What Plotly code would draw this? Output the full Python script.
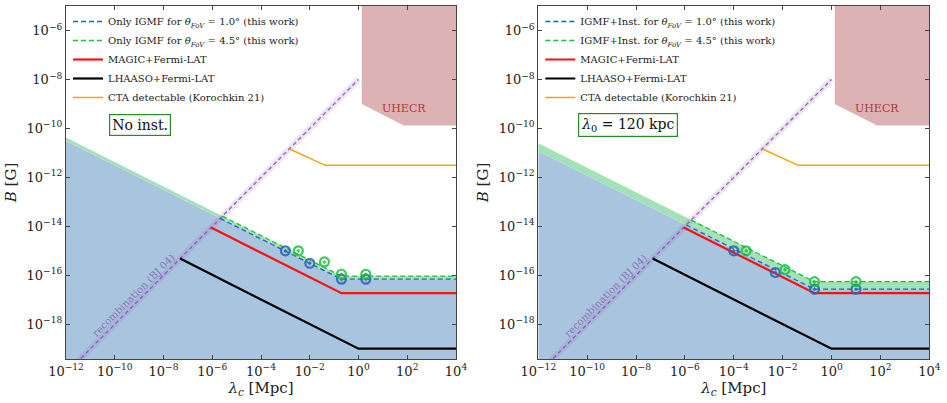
import plotly.graph_objects as go

# ---------------- data ----------------
lam_fill = [1e-12, 0.2, 1e4]
B_blue_L = [3.1e-11, 6.9e-17, 6.9e-17]
B_green_L = [4.2e-11, 9.3e-17, 9.3e-17]
B_blue_R = [1.17e-11, 2.7e-17, 2.7e-17]
B_green_R = [2.45e-11, 5.5e-17, 5.5e-17]

lam_blue_line_L = [2.1e-6, 0.2, 1e4]
B_blue_line_L = [2.1e-14, 6.9e-17, 6.9e-17]
lam_green_line_L = [2.6e-6, 0.2, 1e4]
B_green_line_L = [2.6e-14, 9.3e-17, 9.3e-17]
lam_blue_line_R = [1.13e-6, 0.2, 1e4]
B_blue_line_R = [1.13e-14, 2.7e-17, 2.7e-17]
lam_green_line_R = [1.8e-6, 0.2, 1e4]
B_green_line_R = [1.8e-14, 5.5e-17, 5.5e-17]

lam_magic = [8.9e-7, 0.2, 1e4]
B_magic = [8.9e-15, 1.86e-17, 1.86e-17]
lam_lhaaso = [4.8e-8, 1.0, 1e4]
B_lhaaso = [4.8e-16, 1.0e-19, 1.0e-19]
lam_cta = [1.58e-3, 0.043, 1e4]
B_cta = [1.41e-11, 3.1e-12, 3.1e-12]

lam_recomb = [1e-12, 1.0]
B_recomb = [1e-20, 1e-8]

lam_uhecr = [1.35, 1.35, 73, 1e4, 1e4]
B_uhecr = [1e-4, 1e-9, 1.3e-10, 1.3e-10, 1e-4]

pts_blue_lam_L = [1e-3, 1e-2, 0.2, 2.0]
pts_blue_B_L = [1.0e-15, 3.1e-16, 6.9e-17, 6.9e-17]
pts_green_lam_L = [3.4e-3, 0.04, 0.2, 2.0]
pts_green_B_L = [1.0e-15, 3.5e-16, 1.1e-16, 1.1e-16]
pts_blue_lam_R = [1e-4, 5e-3, 0.2, 10.0]
pts_blue_B_R = [1.0e-15, 1.3e-16, 2.7e-17, 2.7e-17]
pts_green_lam_R = [3.2e-4, 0.0125, 0.2, 10.0]
pts_green_B_R = [1.0e-15, 1.7e-16, 5.5e-17, 5.5e-17]

x_tick_exps = [-12, -10, -8, -6, -4, -2, 0, 2, 4]
y_tick_exps = [-18, -16, -14, -12, -10, -8, -6]

labels_L = ["Only IGMF for <i>θ<sub>FoV</sub></i> = 1.0° (this work)",
            "Only IGMF for <i>θ<sub>FoV</sub></i> = 4.5° (this work)"]
labels_R = ["IGMF+Inst. for <i>θ<sub>FoV</sub></i> = 1.0° (this work)",
            "IGMF+Inst. for <i>θ<sub>FoV</sub></i> = 4.5° (this work)"]
box_text = ["No inst.", "<i>λ</i><sub>0</sub> = 120 kpc"]

# ---------------- style ----------------
FONT = "DejaVu Serif"
C_FILL = "rgb(169,196,222)"
C_GREENFILL = "rgb(163,226,184)"
C_BLUE = "#2a62b4"
C_GREEN = "#1fbf3c"
C_RED = "#ff1010"
C_BLACK = "#000000"
C_ORANGE = "#ffa010"
C_UHECR = "rgb(220,178,180)"
C_PURPLE = "#8a5aa8"

fig = go.Figure()

panels = [
    dict(xa="x", ya="y", leg="legend", bL=B_blue_L, gL=B_green_L,
         bl=(lam_blue_line_L, B_blue_line_L), gl=(lam_green_line_L, B_green_line_L),
         pb=(pts_blue_lam_L, pts_blue_B_L), pg=(pts_green_lam_L, pts_green_B_L),
         labels=labels_L),
    dict(xa="x2", ya="y2", leg="legend2", bL=B_blue_R, gL=B_green_R,
         bl=(lam_blue_line_R, B_blue_line_R), gl=(lam_green_line_R, B_green_line_R),
         pb=(pts_blue_lam_R, pts_blue_B_R), pg=(pts_green_lam_R, pts_green_B_R),
         labels=labels_R),
]

for p in panels:
    xa, ya, leg = p["xa"], p["ya"], p["leg"]
    # blue excluded region
    fig.add_trace(go.Scatter(x=lam_fill + [lam_fill[-1], lam_fill[0]],
                             y=p["bL"] + [1e-22, 1e-22], fill="toself",
                             fillcolor=C_FILL, line=dict(width=0), mode="lines",
                             showlegend=False, hoverinfo="skip", xaxis=xa, yaxis=ya))
    # green band
    fig.add_trace(go.Scatter(x=lam_fill + lam_fill[::-1],
                             y=p["gL"] + p["bL"][::-1], fill="toself",
                             fillcolor=C_GREENFILL, line=dict(width=0), mode="lines",
                             showlegend=False, hoverinfo="skip", xaxis=xa, yaxis=ya))
    # UHECR
    fig.add_trace(go.Scatter(x=lam_uhecr, y=B_uhecr, fill="toself", fillcolor=C_UHECR,
                             line=dict(width=0), mode="lines", showlegend=False,
                             hoverinfo="skip", xaxis=xa, yaxis=ya))
    # recombination band + line
    fig.add_trace(go.Scatter(x=lam_recomb, y=B_recomb, mode="lines",
                             line=dict(color="rgba(150,100,200,0.18)", width=6),
                             showlegend=False, hoverinfo="skip", xaxis=xa, yaxis=ya))
    fig.add_trace(go.Scatter(x=lam_recomb, y=B_recomb, mode="lines",
                             line=dict(color=C_PURPLE, width=1.2, dash="4px,3px"),
                             showlegend=False, hoverinfo="skip", xaxis=xa, yaxis=ya))
    # limits
    fig.add_trace(go.Scatter(x=lam_cta, y=B_cta, mode="lines",
                             line=dict(color=C_ORANGE, width=1.5),
                             name="CTA detectable (Korochkin 21)", legend=leg, legendrank=5,
                             xaxis=xa, yaxis=ya))
    fig.add_trace(go.Scatter(x=lam_magic, y=B_magic, mode="lines",
                             line=dict(color=C_RED, width=2.2),
                             name="MAGIC+Fermi-LAT", legend=leg, legendrank=3,
                             xaxis=xa, yaxis=ya))
    fig.add_trace(go.Scatter(x=lam_lhaaso, y=B_lhaaso, mode="lines",
                             line=dict(color=C_BLACK, width=2.2),
                             name="LHAASO+Fermi-LAT", legend=leg, legendrank=4,
                             xaxis=xa, yaxis=ya))
    # this work lines
    fig.add_trace(go.Scatter(x=p["bl"][0], y=p["bl"][1], mode="lines",
                             line=dict(color=C_BLUE, width=1.3, dash="5px,3px"),
                             name=p["labels"][0], legend=leg, legendrank=1,
                             xaxis=xa, yaxis=ya))
    fig.add_trace(go.Scatter(x=p["gl"][0], y=p["gl"][1], mode="lines",
                             line=dict(color=C_GREEN, width=1.3, dash="5px,3px"),
                             name=p["labels"][1], legend=leg, legendrank=2,
                             xaxis=xa, yaxis=ya))
    fig.add_trace(go.Scatter(x=p["pb"][0], y=p["pb"][1], mode="markers",
                             marker=dict(symbol="circle-open-dot", size=9, color=C_BLUE,
                                         line=dict(width=2.2), opacity=0.85),
                             showlegend=False, hoverinfo="skip", xaxis=xa, yaxis=ya))
    fig.add_trace(go.Scatter(x=p["pg"][0], y=p["pg"][1], mode="markers",
                             marker=dict(symbol="circle-open-dot", size=9, color=C_GREEN,
                                         line=dict(width=2.2), opacity=0.85),
                             showlegend=False, hoverinfo="skip", xaxis=xa, yaxis=ya))

W, H = 947, 403
ytop, ybot = 6, 359
dom_y = [(H - ybot) / H, (H - ytop) / H]
dom_x1 = [66 / W, 456 / W]
dom_x2 = [538.3 / W, 929.3 / W]

def sup(e):
    s = str(e).replace("-", "−")
    return f"10<sup>{s}</sup>"

axis_common = dict(type="log", showgrid=False, zeroline=False, showline=True,
                   linecolor="#444", linewidth=1.2, mirror="allticks", ticks="inside",
                   ticklen=4, tickcolor="#444", tickwidth=1, automargin=False,
                   tickfont=dict(family=FONT, size=13, color="#222"))

xax = dict(axis_common, range=[-12, 4], tickvals=[10.0 ** e for e in x_tick_exps],
           ticktext=[sup(e) for e in x_tick_exps],
           title=dict(text="<i>λ<sub>c</sub></i> [Mpc]", font=dict(family=FONT, size=15, color="#222"),
                      standoff=4))
yax = dict(axis_common, range=[-19.42, -5], tickvals=[10.0 ** e for e in y_tick_exps],
           ticktext=[sup(e) for e in y_tick_exps],
           title=dict(text="<i>B</i> [G]", font=dict(family=FONT, size=15, color="#222"),
                      standoff=6))

fig.update_layout(
    width=W, height=H, margin=dict(l=0, r=0, t=0, b=0),
    paper_bgcolor="white", plot_bgcolor="white",
    font=dict(family=FONT, color="#222"),
    xaxis=dict(xax, domain=dom_x1, anchor="y"),
    yaxis=dict(yax, domain=dom_y, anchor="x"),
    xaxis2=dict(xax, domain=dom_x2, anchor="y2"),
    yaxis2=dict(yax, domain=dom_y, anchor="x2"),
    legend=dict(x=dom_x1[0] + 2 / W, y=dom_y[1] - 1 / H, xanchor="left", yanchor="top",
                bgcolor="rgba(0,0,0,0)", font=dict(family=FONT, size=10, color="#222"),
                tracegroupgap=0, itemwidth=30),
    legend2=dict(x=dom_x2[0] + 2 / W, y=dom_y[1] - 1 / H, xanchor="left", yanchor="top",
                 bgcolor="rgba(0,0,0,0)", font=dict(family=FONT, size=10, color="#222"),
                 tracegroupgap=0, itemwidth=30),
    showlegend=True,
)

ann = []
for i, (xr, yr) in enumerate([("x", "y"), ("x2", "y2")]):
    ann.append(dict(x=-9.23, y=-16.84, xref=xr, yref=yr, text="recombination (BJ 04)",
                    textangle=-45, showarrow=False,
                    font=dict(family=FONT, size=10, color="rgba(130,80,170,0.75)")))
    ann.append(dict(x=1.85, y=-9.17, xref=xr, yref=yr, text="UHECR", showarrow=False,
                    font=dict(family=FONT, size=11, color="#b03838")))
    ann.append(dict(x=[-8.95, -8.34][i], y=-9.88, xref=xr, yref=yr, text=box_text[i],
                    showarrow=False, bgcolor="white", bordercolor="#2a8a2a", borderwidth=1.2,
                    borderpad=2, font=dict(family=FONT, size=14, color="#111")))
fig.update_layout(annotations=ann)

fig.write_html("out.html")
